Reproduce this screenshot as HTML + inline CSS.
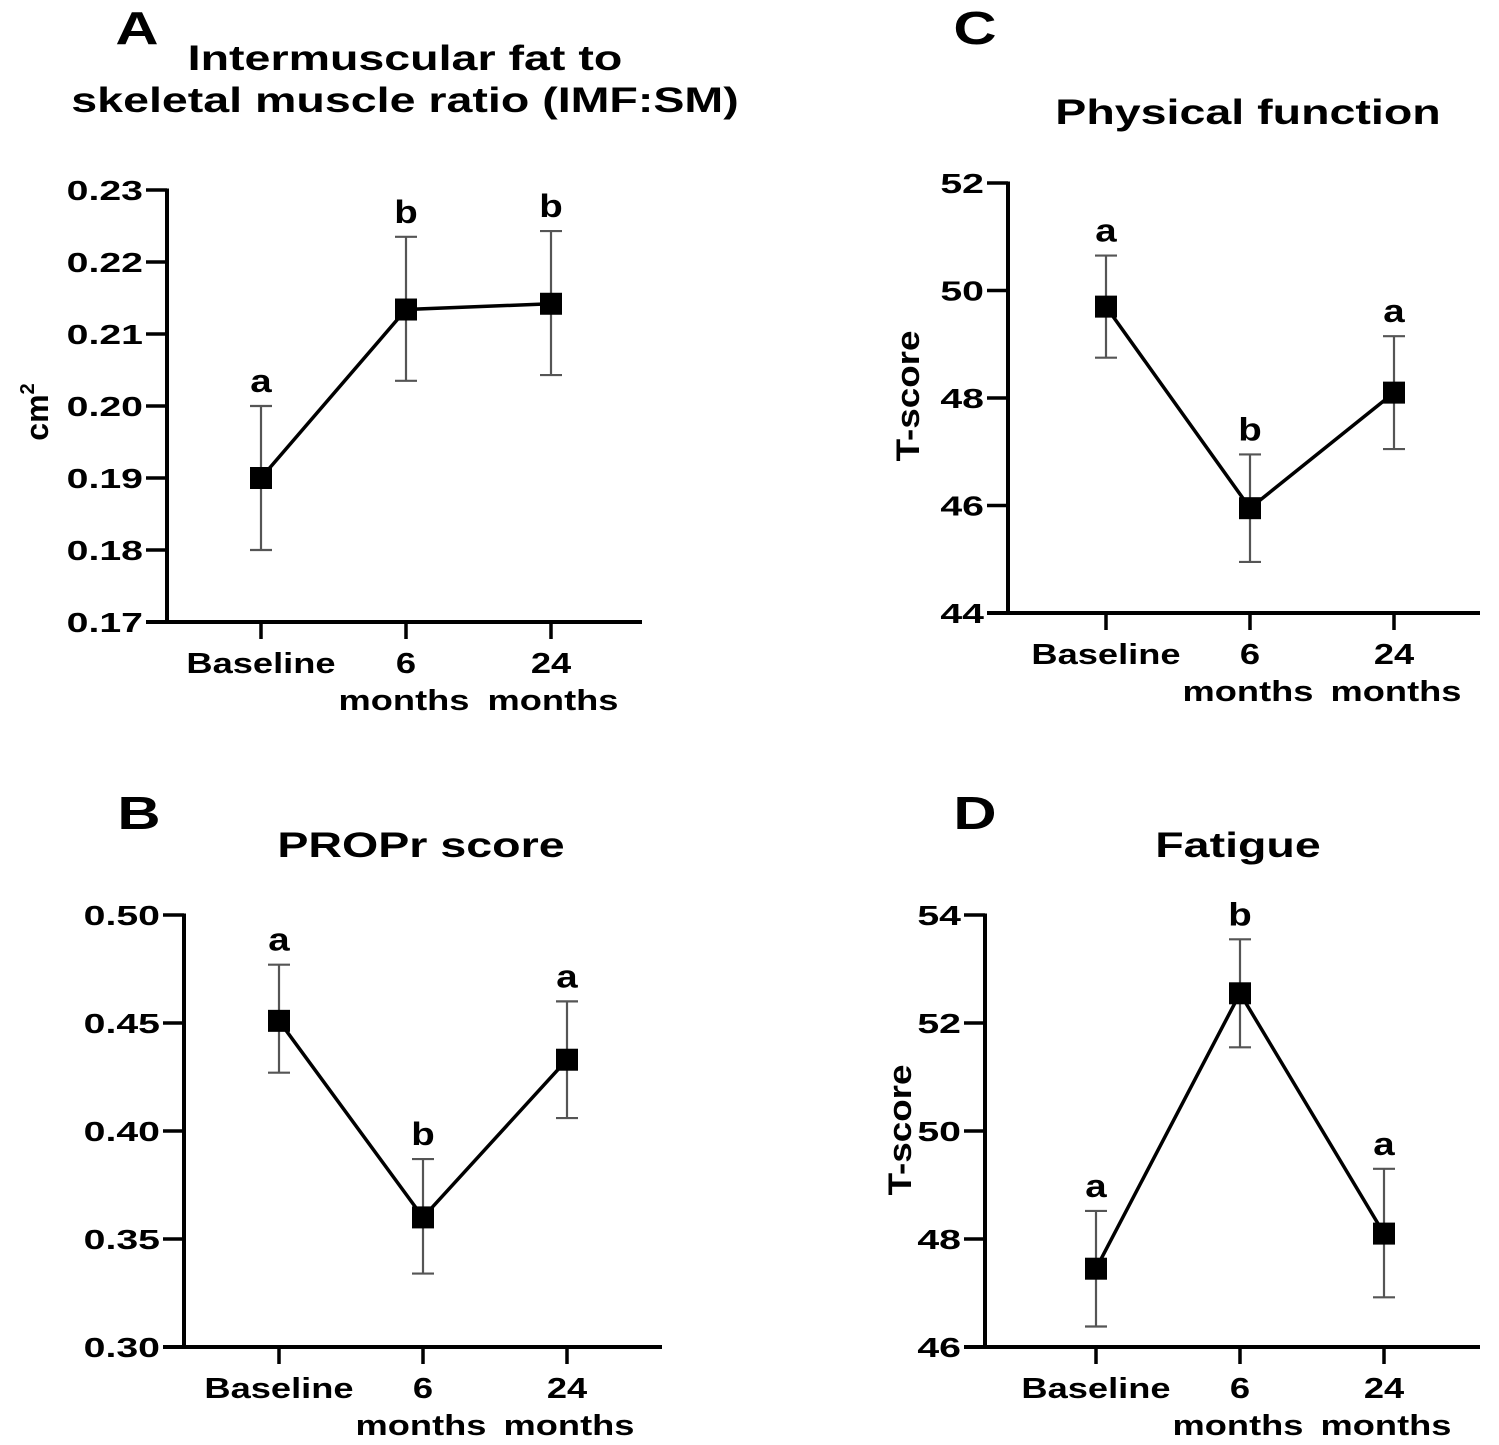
<!DOCTYPE html>
<html><head><meta charset="utf-8"><style>
html,body{margin:0;padding:0;background:#fff;}
svg{display:block;font-family:"Liberation Sans",Arial,sans-serif;font-weight:bold;}
</style></head><body>
<svg id="fig" width="1499" height="1445" viewBox="0 0 1499 1445"></svg>
<script>
const categories = ["Baseline","6 months","24 months"];
const aValues = [0.190, 0.2134, 0.2142];
const aLow = [0.180, 0.2035, 0.2043];
const aHigh = [0.200, 0.2235, 0.2243];
const aLetters = ["a","b","b"];
const aTicks = ["0.17","0.18","0.19","0.20","0.21","0.22","0.23"];
const bValues = [0.451, 0.360, 0.433];
const bLow = [0.427, 0.334, 0.406];
const bHigh = [0.477, 0.387, 0.460];
const bLetters = ["a","b","a"];
const bTicks = ["0.30","0.35","0.40","0.45","0.50"];
const cValues = [49.7, 45.95, 48.1];
const cLow = [48.75, 44.95, 47.05];
const cHigh = [50.65, 46.95, 49.15];
const cLetters = ["a","b","a"];
const cTicks = ["44","46","48","50","52"];
const dValues = [47.45, 52.55, 48.1];
const dLow = [46.38, 51.55, 46.92];
const dHigh = [48.52, 53.55, 49.30];
const dLetters = ["a","b","a"];
const dTicks = ["46","48","50","52","54"];

const NS="http://www.w3.org/2000/svg";
const svg=document.getElementById('fig');
function mk(tag,attrs,parent,text){const e=document.createElementNS(NS,tag);for(const k in attrs)e.setAttribute(k,attrs[k]);if(text!==undefined)e.textContent=text;(parent||svg).appendChild(e);return e;}
function stretch(el,f){const l=el.getComputedTextLength();if(l>0){el.setAttribute('textLength',(l*f).toFixed(1));el.setAttribute('lengthAdjust','spacingAndGlyphs');}}

function panel(cfg){
  const g=mk('g',{});
  
  
  const t0=parseFloat(cfg.ticks[0]), t1=parseFloat(cfg.ticks[cfg.ticks.length-1]);
  const y=v=>cfg.bottom-(v-t0)/(t1-t0)*(cfg.bottom-cfg.top);
  const x=i=>cfg.xs[0]+i*(cfg.xs[1]-cfg.xs[0]);
  const L=mk('text',{x:cfg.letterX,y:cfg.letterY,'font-size':46,'text-anchor':'middle'},g,cfg.letter);
  
  
  stretch(L,1.3);
  cfg.title.forEach((s,i)=>{const t=mk('text',{x:cfg.titleX,y:cfg.titleY+i*42,'font-size':35,'text-anchor':'middle'},g,s);
    
    
    stretch(t,1.33);});
  const ya=mk('line',{x1:cfg.axisX,y1:cfg.top-1.5,x2:cfg.axisX,y2:cfg.bottom+1.5,stroke:'#000','stroke-width':4},g);
  
  
  const xa=mk('line',{x1:cfg.axisX-21,y1:cfg.bottom,x2:cfg.xEnd,y2:cfg.bottom,stroke:'#000','stroke-width':4},g);
  
  
  cfg.ticks.forEach(tk=>{const v=parseFloat(tk),yy=y(v);
    mk('line',{x1:cfg.axisX-21,y1:yy,x2:cfg.axisX,y2:yy,stroke:'#000','stroke-width':3.5},g);
    const t=mk('text',{x:cfg.axisX-24,y:yy+10,'font-size':28,'text-anchor':'end'},g,tk);
    
    
    stretch(t,1.4);});
  categories.forEach((c,i)=>{const xx=x(i);
    mk('line',{x1:xx,y1:cfg.bottom,x2:xx,y2:cfg.bottom+17,stroke:'#000','stroke-width':3.5},g);
    const parts=c.split(' ');
    parts.forEach((p,j)=>{const t=mk('text',{x:j==0?xx:xx+(i==1?-2:2),y:cfg.bottom+51+j*37,'font-size':29,'text-anchor':'middle'},g,p);
      
      
      stretch(t,1.25);});
  });
  if(cfg.yTitle){const t=mk('text',{transform:`translate(${cfg.yTitleX},${cfg.yTitleY}) rotate(-90)`,'font-size':32,'text-anchor':'middle'},g);
    
    
    t.textContent=cfg.yTitle;
    if(cfg.sup){mk('tspan',{'font-size':20,dy:-14},t,cfg.sup);}
    else stretch(t,1.15);
  }
  cfg.values.forEach((v,i)=>{const xx=x(i);
    const eb=mk('g',{stroke:'#555','stroke-width':2.2},g);
    
    
    mk('line',{x1:xx,y1:y(cfg.low[i]),x2:xx,y2:y(cfg.high[i])},eb);
    mk('line',{x1:xx-11,y1:y(cfg.low[i]),x2:xx+11,y2:y(cfg.low[i])},eb);
    mk('line',{x1:xx-11,y1:y(cfg.high[i]),x2:xx+11,y2:y(cfg.high[i])},eb);
  });
  const pl=mk('polyline',{points:cfg.values.map((v,i)=>x(i)+','+y(v)).join(' '),fill:'none',stroke:'#000','stroke-width':3.5},g);
  
  
  cfg.values.forEach((v,i)=>{
    const r=mk('rect',{x:x(i)-11,y:y(v)-11,width:22,height:22,fill:'#000'},g);
    
    
    const t=mk('text',{x:x(i),y:y(cfg.high[i])-14,'font-size':32,'text-anchor':'middle'},g,cfg.letters[i]);
    
    
    stretch(t,1.2);
  });
}
panel({name:'panel-a',letter:'A',letterX:137,letterY:44,title:['Intermuscular fat to','skeletal muscle ratio (IMF:SM)'],titleX:405,titleY:70,
  axisX:167,top:190,bottom:622,xEnd:642,xs:[261,406],ticks:aTicks,values:aValues,low:aLow,high:aHigh,letters:aLetters,yTitle:'cm',sup:'2',yTitleX:48,yTitleY:412});
panel({name:'panel-b',letter:'B',letterX:139,letterY:829,title:['PROPr score'],titleX:421,titleY:857,
  axisX:184,top:915,bottom:1347,xEnd:662,xs:[279,423],ticks:bTicks,values:bValues,low:bLow,high:bHigh,letters:bLetters});
panel({name:'panel-c',letter:'C',letterX:975,letterY:44,title:['Physical function'],titleX:1248,titleY:124,
  axisX:1008,top:183,bottom:613,xEnd:1480,xs:[1106,1250],ticks:cTicks,values:cValues,low:cLow,high:cHigh,letters:cLetters,yTitle:'T-score',yTitleX:919,yTitleY:396});
panel({name:'panel-d',letter:'D',letterX:975,letterY:829,title:['Fatigue'],titleX:1238,titleY:857,
  axisX:985,top:915,bottom:1347,xEnd:1480,xs:[1096,1240],ticks:dTicks,values:dValues,low:dLow,high:dHigh,letters:dLetters,yTitle:'T-score',yTitleX:911,yTitleY:1130});
</script>
</body></html>
